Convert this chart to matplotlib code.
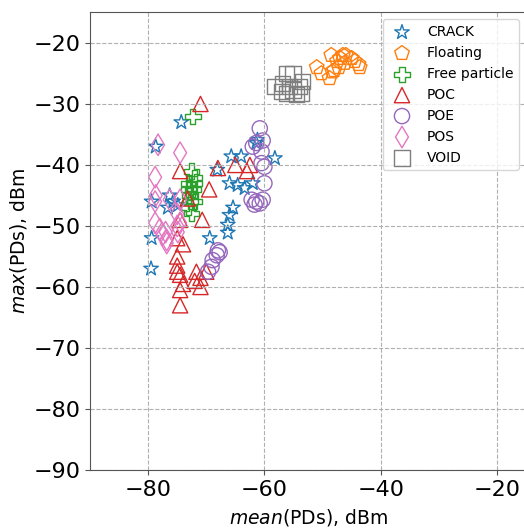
import matplotlib
matplotlib.use("Agg")
import matplotlib.pyplot as plt

# -------------------------------
# Data: (mean, max) of PDs in dBm per defect class
# -------------------------------

crack_x = [-79.5, -79.4, -79.4, -78.7, -74.3, -76.3, -75.7, -76.6, -74.9, -69.4,
           -68.1, -65.7, -64.0, -61.4, -61.2, -58.2, -66.0, -64.6, -63.4, -62.0,
           -65.4, -66.0, -66.3, -66.3]
crack_y = [-57.0, -52.0, -46.0, -37.0, -33.0, -45.0, -46.0, -47.0, -46.6, -52.0,
           -40.8, -38.6, -38.6, -36.4, -35.9, -38.9, -43.0, -43.3, -43.8, -43.0,
           -47.0, -48.2, -49.8, -51.1]

floating_x = [-51.0, -50.2, -48.8, -48.0, -47.5, -47.0, -46.5, -46.0, -45.0, -44.5,
              -43.6, -46.2, -47.2, -48.3, -48.5, -43.8]
floating_y = [-24.0, -25.0, -25.8, -24.5, -23.0, -22.5, -22.0, -22.0, -22.5, -23.0,
              -24.0, -23.3, -24.0, -24.7, -22.0, -23.5]

free_x = [-72.3, -72.5, -72.0, -73.0, -72.3, -72.8, -72.0, -73.0, -72.5, -72.0,
          -73.0, -72.7]
free_y = [-32.0, -41.0, -42.0, -43.0, -44.0, -45.0, -46.0, -47.0, -48.0, -43.0,
          -44.0, -46.0]

poc_x = [-71.0, -74.5, -68.0, -65.0, -62.5, -63.0, -69.5, -73.2, -70.7, -74.5,
         -75.0, -74.0, -75.0, -75.0, -74.5, -74.0, -74.5, -74.5, -71.7, -71.0,
         -70.0, -72.0, -71.0, -75.0]
poc_y = [-30.0, -41.0, -40.5, -40.0, -40.0, -41.0, -44.0, -45.5, -49.0, -49.0,
         -52.0, -53.0, -55.0, -56.5, -58.0, -59.5, -60.5, -63.0, -57.5, -60.0,
         -57.5, -59.0, -58.5, -57.5]

poe_x = [-60.8, -61.4, -60.3, -60.5, -62.0, -60.5, -60.0, -60.0, -62.2, -61.4,
         -60.8, -61.7, -60.3, -68.0, -67.7, -68.2, -68.9, -69.1, -69.7]
poe_y = [-34.0, -36.4, -36.0, -37.8, -37.0, -39.7, -40.3, -43.0, -45.7, -46.0,
         -46.3, -46.5, -45.7, -54.0, -54.3, -54.8, -55.6, -56.7, -57.5]

pos_x = [-78.3, -74.5, -78.8, -78.7, -78.8, -76.3, -74.5, -75.0, -78.8, -78.0,
         -77.5, -76.8, -77.0, -76.8, -75.0, -74.9, -74.5]
pos_y = [-36.7, -38.0, -42.0, -45.0, -46.0, -45.7, -45.7, -48.0, -49.5, -50.5,
         -51.5, -52.3, -51.0, -52.8, -50.0, -51.0, -49.5]

void_x = [-58.2, -56.2, -55.1, -56.9, -56.2, -55.1, -54.0, -53.7, -55.7, -57.1,
          -53.4, -54.5]
void_y = [-27.2, -25.0, -25.0, -26.6, -28.3, -27.7, -27.2, -28.3, -27.2, -28.0,
          -26.3, -28.5]

classes = [
    ("CRACK", crack_x, crack_y, "*", "tab:blue"),
    ("Floating", floating_x, floating_y, "p", "tab:orange"),
    ("Free particle", free_x, free_y, "P", "tab:green"),
    ("POC", poc_x, poc_y, "^", "tab:red"),
    ("POE", poe_x, poe_y, "o", "tab:purple"),
    ("POS", pos_x, pos_y, "d", "tab:pink"),
    ("VOID", void_x, void_y, "s", "tab:gray"),
]

# -------------------------------
# Plot
# -------------------------------

fig = plt.figure(figsize=(5.24, 5.29), dpi=100)
# right spine sits just past the right edge of the picture
ax = fig.add_axes([0.1718, 0.1115, 0.832, 0.865])

for name, xs, ys, mk, col in classes:
    ax.scatter(xs, ys, marker=mk, s=120, facecolors="none", edgecolors=col,
               linewidths=1.0, label=name)

ax.set_xlim(-90, -15)
ax.set_ylim(-90, -15)
ax.set_xticks([-80, -60, -40, -20])
ax.set_yticks([-90, -80, -70, -60, -50, -40, -30, -20])
ax.tick_params(labelsize=16, color="#555555")
for sp in ax.spines.values():
    sp.set_color("#555555")
ax.grid(True, linestyle="--", color="#b0b0b0", linewidth=0.8)
ax.set_xlabel("$mean$(PDs), dBm", fontsize=13.5, labelpad=5)
ax.set_ylabel("$max$(PDs), dBm", fontsize=13.5, labelpad=3)
ax.legend(loc="upper right", fontsize=10, labelspacing=0.5, framealpha=0.8)

fig.savefig("out.png", dpi=100)
